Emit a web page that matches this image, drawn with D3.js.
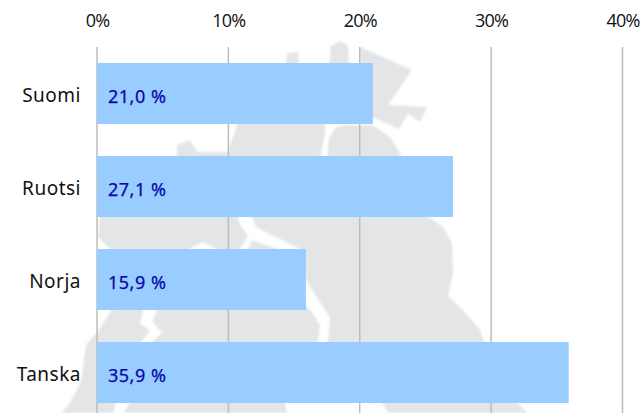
<!DOCTYPE html>
<html>
<head>
<meta charset="utf-8">
<script src="https://d3js.org/d3.v7.min.js"></script>
<style>
html,body{margin:0;padding:0;background:#fff}
svg{display:block}
</style>
</head>
<body>
<div id="chart"></div>
<script>
var countries = ["Suomi","Ruotsi","Norja","Tanska"]
var shares = [21.0,27.1,15.9,35.9]
var ticks = [0,10,20,30,40]
var valueLabels = ["21,0 %","27,1 %","15,9 %","35,9 %"]

// background map in page pixels
var mapShapes = [
    [[287,53],[298,52],[299,70],[285,70]],
    [[331,46],[340,41],[348,45],[349,70],[329,70]],
    [[360,47],[412,70],[388,105],[427,107],[420,122],[408,114],[399,129],[375,118],[360,118]],
    [[177,145],[190,140],[198,152],[227,152],[235,132],[238,120],[325,120],[325,133],[320,160],[177,160]],
    [[327,160],[329,138],[335,128],[345,125],[372,125],[390,137],[400,153],[402,160]],
    [[100,213],[237,213],[240,225],[248,236],[238,252],[222,252],[203,242],[183,252],[113,252],[98,237]],
    [[252,240],[285,252],[247,252]],
    [[250,213],[257,228],[300,249],[307,282],[330,318],[328,342],[382,403],[389,413],[528,413],[517,403],[484,342],[480,330],[463,310],[448,296],[453,273],[452,243],[443,227],[430,218],[420,213]],
    [[115,305],[143,305],[143,311],[140,323],[150,331],[142,341],[115,405],[113,413],[61,413],[69,404],[81,382],[86,345],[98,331]],
    [[157,305],[157,311],[152,321],[162,333],[153,341],[130,403],[123,413],[287,413],[285,403],[318,342],[320,325],[311,311],[300,300],[290,270],[157,270]]
]

var svg = d3.select("#chart")
    .append("svg")
    .attr("width",641)
    .attr("height",413)

svg.append("filter")
    .attr("id","soft")
    .append("feGaussianBlur")
    .attr("stdDeviation",1)

var x = d3.scaleLinear().domain([0,40]).range([97,622.5])
var y = d3.scaleBand().domain(countries).range([47,419]).paddingInner(0.344).paddingOuter(0.172)

var outline = d3.line().curve(d3.curveLinearClosed)

svg.append("g")
    .attr("filter","url(#soft)")
    .selectAll("path")
    .data(mapShapes)
    .enter()
    .append("path")
    .attr("d",d=>outline(d))
    .attr("fill","#e4e5e6")

var xAxis = svg.append("g")
    .attr("transform","translate(0,47)")
    .call(d3.axisTop(x).tickValues(ticks).tickSize(0).tickPadding(20).tickFormat(d=>d+"%"))
xAxis.select(".domain").remove()
xAxis.selectAll("text")
    .attr("font-family","'Open Sans'")
    .attr("font-size",18)
    .attr("letter-spacing",-0.8)
    .attr("fill","#111")

svg.selectAll("grid")
    .data(ticks)
    .enter()
    .append("line")
    .attr("x1",d=>x(d))
    .attr("x2",d=>x(d))
    .attr("y1",47)
    .attr("y2",413)
    .attr("stroke","#bdbdbd")
    .attr("stroke-width",1.5)

svg.selectAll("bar")
    .data(shares)
    .enter()
    .append("rect")
    .attr("x",x(0))
    .attr("y",(d,i)=>y(countries[i]))
    .attr("width",d=>x(d)-x(0))
    .attr("height",y.bandwidth())
    .attr("fill","#99ccff")

var yAxis = svg.append("g")
    .attr("transform","translate(97,2)")
    .call(d3.axisLeft(y).tickSize(0).tickPadding(16))
yAxis.select(".domain").remove()
yAxis.selectAll("text")
    .attr("font-family","'Noto Sans'")
    .attr("font-size",19)
    .attr("letter-spacing",0.5)
    .attr("fill","#111")

svg.selectAll("valueLabel")
    .data(valueLabels)
    .enter()
    .append("text")
    .text(d=>d)
    .attr("x",x(0)+11)
    .attr("y",(d,i)=>y(countries[i])+y.bandwidth()/2+2)
    .attr("dominant-baseline","central")
    .attr("font-family","'Noto Sans'")
    .attr("font-size",18)
    .attr("letter-spacing",0.5)
    .attr("stroke","#0808a8")
    .attr("stroke-width",0.25)
    .attr("fill","#0808a8")
</script>
</body>
</html>
